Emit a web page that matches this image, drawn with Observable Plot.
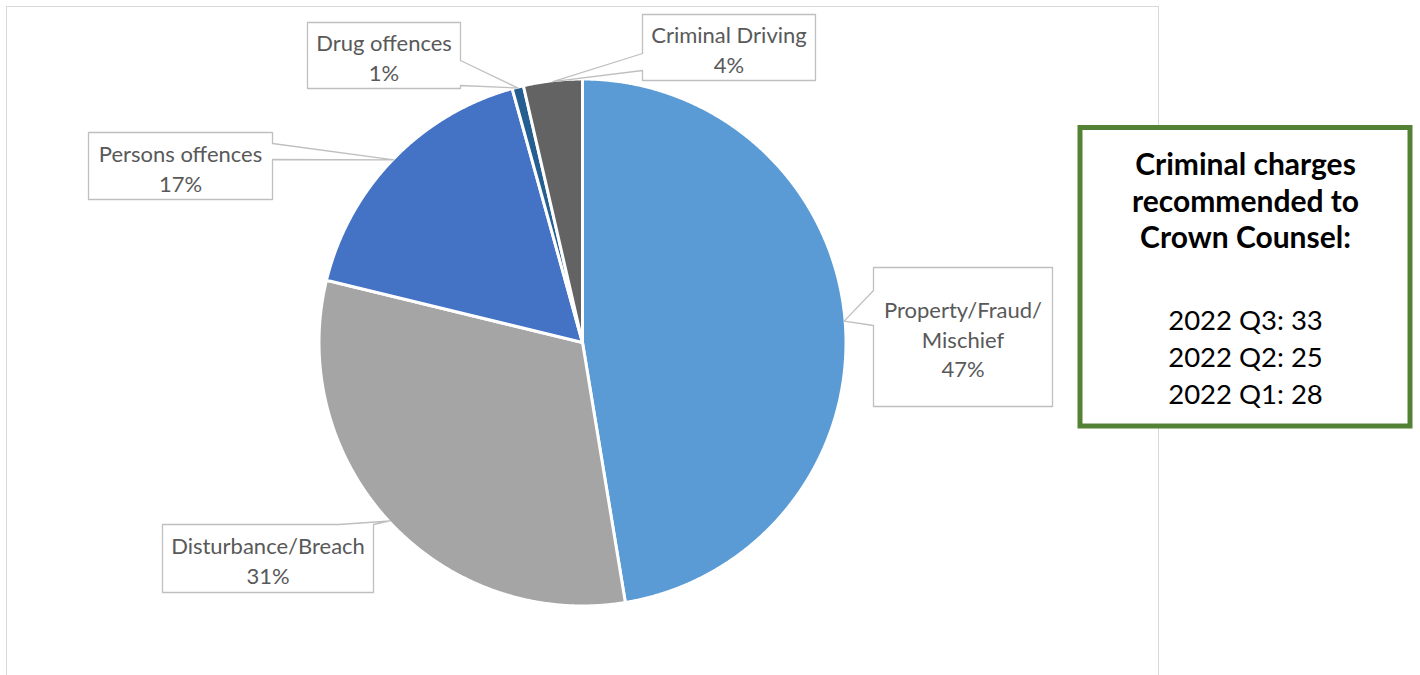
<!DOCTYPE html>
<html>
<head>
<meta charset="utf-8">
<script src="https://cdn.jsdelivr.net/npm/d3@7"></script>
<script src="https://cdn.jsdelivr.net/npm/@observablehq/plot@0.6"></script>
<style>
  body { margin: 0; background: #ffffff; }
  #chart svg { display: block; }
</style>
</head>
<body>
<div id="chart"></div>
<script>
// ---- data ----
const categories = ["Property/Fraud/Mischief", "Disturbance/Breach", "Persons offences", "Drug offences", "Criminal Driving"];
const labelNames = ["Property/Fraud/\nMischief", "Disturbance/Breach", "Persons offences", "Drug offences", "Criminal Driving"];
const shares = [47.4, 31.4, 16.9, 0.7, 3.6];
const sliceColors = ["#5B9BD5", "#A5A5A5", "#4472C4", "#255E91", "#636363"];
const panelTitle = ["Criminal charges", "recommended to", "Crown Counsel:"];
const quarters = ["2022 Q3", "2022 Q2", "2022 Q1"];
const charges = [33, 25, 28];

// ---- layout (pixel space) ----
const pie = { cx: 582, cy: 342, r: 263.5 };
const frameBox = { x1: 6.5, y1: 6.5, x2: 1158.5, y2: 700 };
const panelBox = { x1: 1080, y1: 127.5, x2: 1410, y2: 426 };
// callout boxes: [x1, y1, x2, y2], side of the pointer, and the pointer base along that side
const callouts = [
  { box: [873, 267, 1052, 406], side: "left", base: [290, 325] },
  { box: [162, 524, 373, 592], side: "top", base: [338, 373] },
  { box: [88, 132, 272, 199], side: "right", base: [143, 159] },
  { box: [307, 22, 460, 88], side: "right", base: [60, 85] },
  { box: [642, 14, 815, 80], side: "left", base: [53, 70] }
];

// ---- geometry from data ----
const arcs = d3.pie().sort(null).value(d => d)(shares);
const slicePts = [];
arcs.forEach((a, i) => {
  const n = Math.max(4, Math.ceil((a.endAngle - a.startAngle) / 0.004));
  slicePts.push({ name: categories[i], x: pie.cx, y: pie.cy });
  for (let k = 0; k <= n; k++) {
    const t = a.startAngle + (a.endAngle - a.startAngle) * k / n;
    slicePts.push({ name: categories[i], x: pie.cx + pie.r * Math.sin(t), y: pie.cy - pie.r * Math.cos(t) });
  }
});

const outlinePts = [];
const labelRows = [];
arcs.forEach((a, i) => {
  const mid = (a.startAngle + a.endAngle) / 2;
  const tip = [pie.cx + (pie.r - 1) * Math.sin(mid), pie.cy - (pie.r - 1) * Math.cos(mid)];
  const c = callouts[i];
  const [x1, y1, x2, y2] = c.box;
  const [b0, b1] = c.base.slice().sort((p, q) => p - q);
  let pts;
  if (c.side === "top") pts = [[x1, y1], [b0, y1], tip, [b1, y1], [x2, y1], [x2, y2], [x1, y2]];
  else if (c.side === "right") pts = [[x1, y1], [x2, y1], [x2, b0], tip, [x2, b1], [x2, y2], [x1, y2]];
  else if (c.side === "bottom") pts = [[x1, y1], [x2, y1], [x2, y2], [b1, y2], tip, [b0, y2], [x1, y2]];
  else pts = [[x1, y1], [x2, y1], [x2, y2], [x1, y2], [x1, b1], tip, [x1, b0]];
  pts.forEach(p => outlinePts.push({ id: i, x: p[0], y: p[1] }));
  labelRows.push({
    x: (x1 + x2) / 2,
    y: (y1 + y2) / 2 + 1,
    text: `${labelNames[i]}\n${Math.round(shares[i])}%`
  });
});

const countsText = quarters.map((q, i) => `${q}: ${charges[i]}`).join("\n");

const chart = Plot.plot({
  width: 1420,
  height: 675,
  margin: 0,
  x: { domain: [0, 1420], range: [0, 1420], axis: null },
  y: { domain: [0, 675], range: [0, 675], axis: null },
  color: { domain: categories, range: sliceColors },
  style: { fontFamily: "Lato, 'Open Sans', sans-serif", background: "#ffffff", overflow: "hidden" },
  marks: [
    Plot.rect([frameBox], { x1: "x1", x2: "x2", y1: "y1", y2: "y2", fill: "#ffffff", stroke: "#d9d9d9", strokeWidth: 1 }),
    Plot.line(slicePts, { x: "x", y: "y", z: "name", fill: "name", stroke: "#ffffff", strokeWidth: 3, strokeLinejoin: "round", curve: "linear-closed" }),
    Plot.line(outlinePts, { x: "x", y: "y", z: "id", fill: "#ffffff", stroke: "#bfbfbf", strokeWidth: 1.3, curve: "linear-closed" }),
    Plot.text(labelRows, { x: "x", y: "y", text: "text", fontSize: 22, lineHeight: 1.36, fill: "#595959", textAnchor: "middle" }),
    Plot.rect([panelBox], { x1: "x1", x2: "x2", y1: "y1", y2: "y2", fill: "#ffffff", stroke: "#548235", strokeWidth: 5 }),
    Plot.text([panelTitle.join("\n")], { x: (panelBox.x1 + panelBox.x2) / 2, y: 199.5, text: d => d, fontSize: 30, fontWeight: "bold", lineHeight: 1.22, fill: "#000000", textAnchor: "middle" }),
    Plot.text([countsText], { x: (panelBox.x1 + panelBox.x2) / 2, y: 355, text: d => d, fontSize: 27.5, lineHeight: 1.34, fill: "#000000", textAnchor: "middle" })
  ]
});
document.getElementById("chart").appendChild(chart);
</script>
</body>
</html>
